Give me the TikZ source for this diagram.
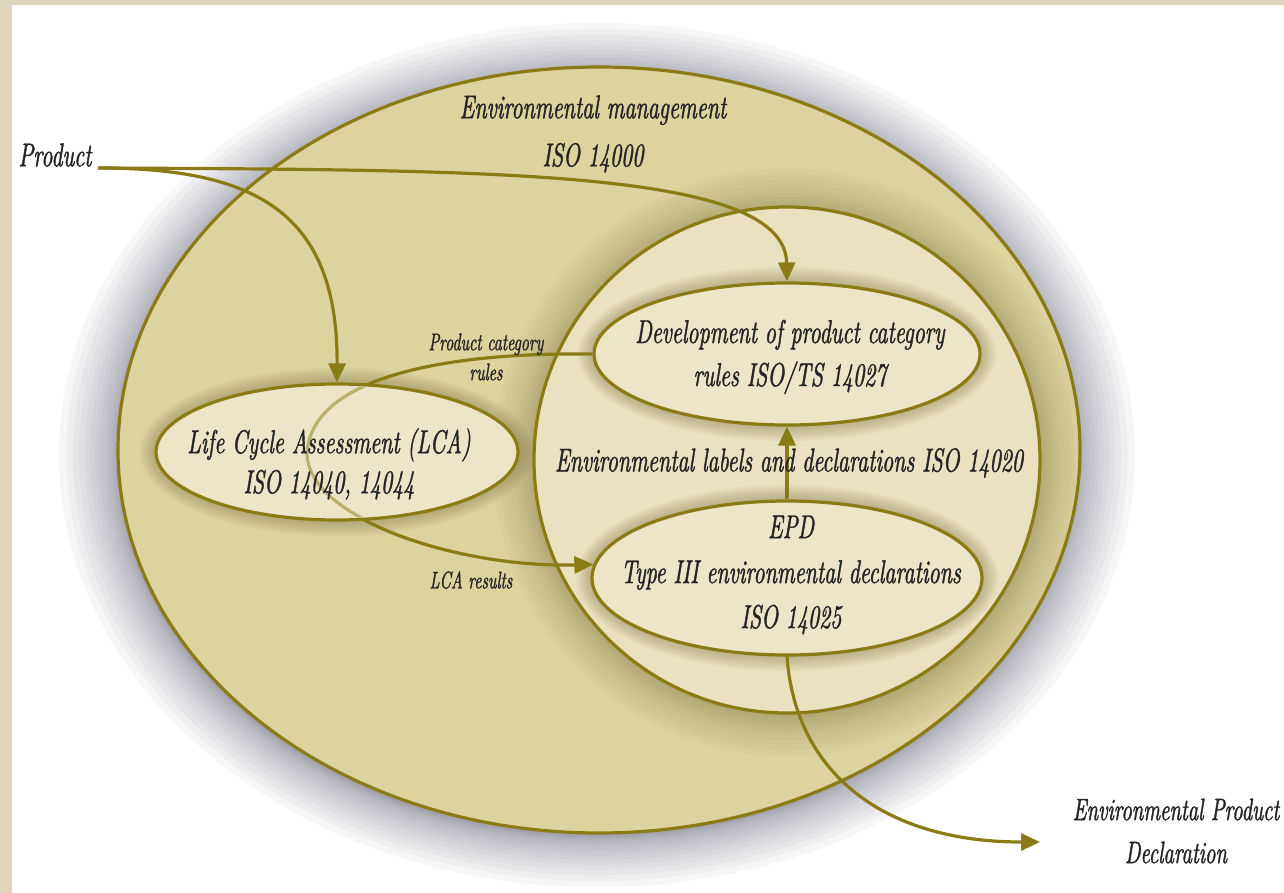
\documentclass[tikz,border=0pt]{standalone}
\usepackage{fontspec}
\newfontfamily\hand{lmroman10-italic.otf}[FakeStretch=0.66,FakeBold=1.2]
\usetikzlibrary{arrows.meta,shapes.geometric}
\definecolor{lineol}{HTML}{8B7B14}
\definecolor{bigfill}{HTML}{DCD39E}
\definecolor{circfill}{HTML}{EAE1C0}
\definecolor{ellfill}{HTML}{EDE5C8}
\definecolor{shadowc}{HTML}{6A6B7C}
\definecolor{glowc}{HTML}{7A6E3C}
\definecolor{txt}{HTML}{242424}
\definecolor{framec}{HTML}{DFD5BF}
\tikzset{
  ln/.style={draw=lineol, line width=3.2pt},
  conn/.style={draw=lineol, line width=3.2pt, -{Triangle[length=19pt,width=17pt]}},
  ell/.style={ellipse, draw=lineol, line width=3.2pt, fill=ellfill, inner sep=0pt},
  bigtext/.style={font=\hand\fontsize{33}{45}\selectfont, text=txt, align=center, inner sep=0pt},
  smalltext/.style={font=\hand\fontsize{24}{30}\selectfont, text=txt, align=center, inner sep=0pt},
}
\begin{document}
\begin{tikzpicture}[x=1pt,y=-1pt]
\useasboundingbox (0,0) rectangle (1284,893);
\fill[white] (0,0) rectangle (1284,893);
\fill[framec] (0,0) rectangle (12,893);
\fill[framec] (0,0) rectangle (1284,5);
% shadow of the big ellipse
\foreach \i in {1,...,16}
  \fill[shadowc, opacity=0.055] (597,455) ellipse [x radius={(479+0.23*\i*\i)*1pt}, y radius={(381+0.2*\i*\i)*1pt}];
% big ellipse
\fill[bigfill] (599,450) ellipse [x radius=481pt, y radius=383pt];
\begin{scope}
  \clip (599,450) ellipse [x radius=481pt, y radius=383pt];
  \foreach \i in {1,...,14}
    \fill[glowc, opacity=0.045] (787,462) circle [radius={(251+0.22*\i*\i)*1pt}];
\end{scope}
\draw[ln] (599,450) ellipse [x radius=481pt, y radius=383pt];
% inner circle
\fill[circfill] (787,460) circle [radius=253pt];
\draw[ln] (787,460) circle [radius=253pt];
% glows of the small ellipses
\foreach \cx/\cy/\rx/\ry in {787/354/193/71, 787/578/195/77, 337/452/181/68}
  \foreach \i in {1,...,9}
    \fill[glowc, opacity=0.05] (\cx,\cy) ellipse [x radius={(\rx+1.8*\i)*1pt}, y radius={(\ry+1.8*\i)*1pt}];
% ellipses
\node[ell, minimum width=386pt, minimum height=142pt] (pcr) at (787,354) {};
\node[ell, minimum width=390pt, minimum height=154pt] (epd) at (787,578) {};
% loop connector
\coordinate (loopc) at (307,454);
\draw[conn] (pcr.west) .. controls (430,352) and (310,382) .. (loopc) .. controls (309,520) and (460,568) .. (epd.176);
\node[ell, minimum width=362pt, minimum height=136pt] (lca) at (337,452) {};
\begin{scope}
  \clip (337,452) ellipse [x radius=179pt, y radius=66pt];
  \draw[lineol, line width=3.2pt, opacity=0.5] (pcr.west) .. controls (430,352) and (310,382) .. (loopc) .. controls (309,520) and (460,568) .. (epd.176);
\end{scope}
% product
\node[bigtext] (product) at (55,155) {Product};
\coordinate (pstart) at (98,168);
\draw[conn] (pstart) .. controls (255,168) and (338,212) .. (lca.north);
\draw[conn] (pstart) .. controls (500,170) and (785,170) .. (pcr.north);
% epd to pcr
\draw[conn] (epd.north) -- (pcr.south);
% output
\node[bigtext, font=\hand\fontsize{31}{43}\selectfont] (epdout) at (1176,831) {Environmental Product\\Declaration};
\coordinate (outend) at (1040,842);
\draw[conn] (epd.south) .. controls (795,770) and (880,842) .. (outend);
% texts
\node[bigtext, font=\hand\fontsize{33}{48}\selectfont] (envman) at (593,134) {Environmental management\\ISO 14000};
\node[bigtext, font=\hand\fontsize{33}{40}\selectfont] (lcatext) at (329,464) {Life Cycle Assessment (LCA)\\ISO 14040, 14044};
\node[bigtext, font=\hand\fontsize{33}{43}\selectfont] (pcrtext) at (790,357) {Development of product category\\rules ISO/TS 14027};
\node[bigtext] (epdtext) at (791,575) {EPD\\Type III environmental declarations\\ISO 14025};
\node[bigtext] (labels) at (789,463) {Environmental labels and declarations ISO 14020};
\node[smalltext] (pcrlabel) at (486,357) {Product category\\rules};
\node[smalltext] (lcares) at (471,580) {LCA results};
\end{tikzpicture}
\end{document}
